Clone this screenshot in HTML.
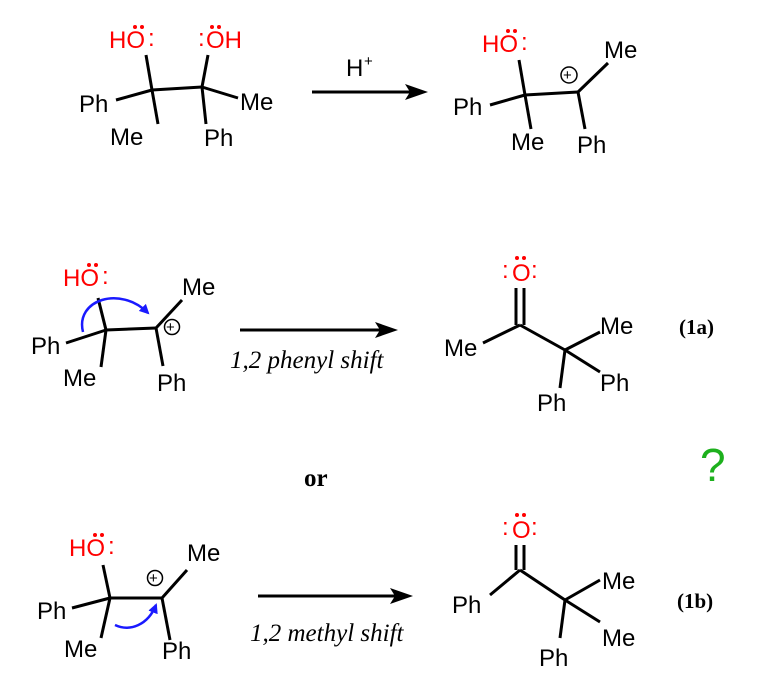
<!DOCTYPE html>
<html><head><meta charset="utf-8"><style>
html,body{margin:0;padding:0;background:#fff;}
svg{display:block;}
text{font-family:"Liberation Sans",sans-serif;font-size:24px;fill:#000;}
.r{fill:#f00;}
.i{font-family:"Liberation Serif",serif;font-style:italic;font-size:25px;}
.b{font-family:"Liberation Serif",serif;font-weight:bold;font-size:21px;}
line,path.k{stroke:#000;stroke-width:3;fill:none;}
.bl{stroke:#1a1aff;stroke-width:2.5;fill:none;}
circle.d{fill:#f00;}
</style></head><body>
<svg width="765" height="693" viewBox="0 0 765 693" xmlns="http://www.w3.org/2000/svg">
<defs><marker id="ah" markerWidth="10" markerHeight="10" refX="8" refY="5" orient="auto" markerUnits="userSpaceOnUse"><path d="M0,0 L10,5 L0,10 Z" fill="#1a1aff"/></marker></defs>
<!-- top left -->
<text x="109" y="48" class="r">HO</text><text x="148" y="46" class="r">:</text>
<circle class="d" cx="135" cy="27" r="2"/><circle class="d" cx="142" cy="27" r="2"/>
<text x="198" y="46" class="r">:</text><text x="206" y="48" class="r">OH</text>
<circle class="d" cx="212" cy="27" r="2"/><circle class="d" cx="219" cy="27" r="2"/>
<line x1="152" y1="90" x2="146" y2="55"/><line x1="152" y1="90" x2="202" y2="87"/>
<line x1="152" y1="90" x2="116" y2="100"/><line x1="152" y1="90" x2="158" y2="124"/>
<line x1="202" y1="87" x2="208" y2="55"/><line x1="202" y1="87" x2="238" y2="98"/><line x1="202" y1="87" x2="206" y2="124"/>
<text x="79" y="112">Ph</text><text x="110" y="145">Me</text><text x="240" y="110">Me</text><text x="204" y="146">Ph</text>
<line x1="312" y1="92" x2="415" y2="92"/><path d="M428,92 L405,84 L410,92 L405,100 Z"/>
<text x="346" y="76">H</text><text x="364" y="66" style="font-size:15px">+</text>
<!-- top right -->
<text x="482" y="52" class="r">HO</text><text x="521" y="50" class="r">:</text>
<circle class="d" cx="508" cy="31" r="2"/><circle class="d" cx="515" cy="31" r="2"/>
<line x1="525" y1="95" x2="519" y2="60"/><line x1="525" y1="95" x2="578" y2="92"/>
<line x1="525" y1="95" x2="490" y2="105"/><line x1="525" y1="95" x2="531" y2="129"/>
<line x1="578" y1="92" x2="608" y2="63"/><line x1="578" y1="92" x2="585" y2="129"/>
<circle cx="569" cy="75" r="8" fill="none" stroke="#000" stroke-width="1.5"/><text x="563" y="80" style="font-size:15px">+</text>
<text x="453" y="115">Ph</text><text x="511" y="150">Me</text><text x="604" y="58">Me</text><text x="577" y="153">Ph</text>
<!-- middle left -->
<text x="63" y="286" class="r">HO</text><text x="102" y="284" class="r">:</text>
<circle class="d" cx="89" cy="265" r="2"/><circle class="d" cx="96" cy="265" r="2"/>
<line x1="106" y1="330" x2="98" y2="298"/><line x1="106" y1="330" x2="156" y2="328"/>
<line x1="106" y1="330" x2="66" y2="343"/><line x1="106" y1="330" x2="101" y2="367"/>
<line x1="156" y1="328" x2="182" y2="300"/><line x1="156" y1="328" x2="163" y2="366"/>
<circle cx="172" cy="327" r="7.5" fill="none" stroke="#000" stroke-width="1.5"/><text x="166" y="332" style="font-size:15px">+</text>
<path class="bl" d="M83,332 C75,300 120,285 148,313" marker-end="url(#ah)"/>
<text x="31" y="354">Ph</text><text x="63" y="386">Me</text><text x="182" y="295">Me</text><text x="157" y="391">Ph</text>
<line x1="240" y1="330" x2="385" y2="330"/><path d="M398,330 L375,322 L380,330 L375,338 Z"/>
<text x="230" y="368" class="i">1,2 phenyl shift</text>
<!-- 1a -->
<text x="512" y="281" class="r">O</text><text x="502" y="278" class="r">:</text><text x="531" y="278" class="r">:</text>
<circle class="d" cx="517" cy="258" r="2"/><circle class="d" cx="524" cy="258" r="2"/>
<line x1="516" y1="325" x2="516" y2="288"/><line x1="524" y1="325" x2="524" y2="288"/>
<line x1="520" y1="325" x2="483" y2="343"/><line x1="520" y1="325" x2="565" y2="350"/>
<line x1="565" y1="350" x2="600" y2="332"/><line x1="565" y1="350" x2="600" y2="372"/><line x1="565" y1="350" x2="560" y2="388"/>
<text x="444" y="356">Me</text><text x="600" y="334">Me</text><text x="600" y="391">Ph</text><text x="537" y="411">Ph</text>
<text x="679" y="334" class="b">(1a)</text>
<text x="700" y="481" style="font-size:46px;fill:#1db01d">?</text>
<text x="304" y="486" class="b" style="font-size:25px">or</text>
<!-- bottom left -->
<text x="69" y="556" class="r">HO</text><text x="108" y="554" class="r">:</text>
<circle class="d" cx="95" cy="535" r="2"/><circle class="d" cx="102" cy="535" r="2"/>
<line x1="110" y1="598" x2="103" y2="565"/><line x1="110" y1="598" x2="162" y2="598"/>
<line x1="110" y1="598" x2="72" y2="608"/><line x1="110" y1="598" x2="101" y2="638"/>
<line x1="162" y1="598" x2="187" y2="570"/><line x1="162" y1="598" x2="170" y2="640"/>
<circle cx="155" cy="578" r="7.5" fill="none" stroke="#000" stroke-width="1.5"/><text x="149" y="583" style="font-size:15px">+</text>
<path class="bl" d="M115,625 C130,632 148,625 156,605" marker-end="url(#ah)"/>
<text x="37" y="619">Ph</text><text x="64" y="657">Me</text><text x="187" y="561">Me</text><text x="162" y="659">Ph</text>
<line x1="258" y1="596" x2="400" y2="596"/><path d="M413,596 L390,588 L395,596 L390,604 Z"/>
<text x="250" y="641" class="i">1,2 methyl shift</text>
<!-- 1b -->
<text x="512" y="538" class="r">O</text><text x="502" y="535" class="r">:</text><text x="531" y="535" class="r">:</text>
<circle class="d" cx="517" cy="515" r="2"/><circle class="d" cx="524" cy="515" r="2"/>
<line x1="516" y1="570" x2="516" y2="545"/><line x1="524" y1="570" x2="524" y2="545"/>
<line x1="520" y1="570" x2="490" y2="595"/><line x1="520" y1="570" x2="565" y2="600"/>
<line x1="565" y1="600" x2="600" y2="580"/><line x1="565" y1="600" x2="600" y2="622"/><line x1="565" y1="600" x2="560" y2="638"/>
<text x="452" y="613">Ph</text><text x="602" y="589">Me</text><text x="602" y="646">Me</text><text x="539" y="666">Ph</text>
<text x="677" y="608" class="b">(1b)</text>
</svg>
</body></html>
